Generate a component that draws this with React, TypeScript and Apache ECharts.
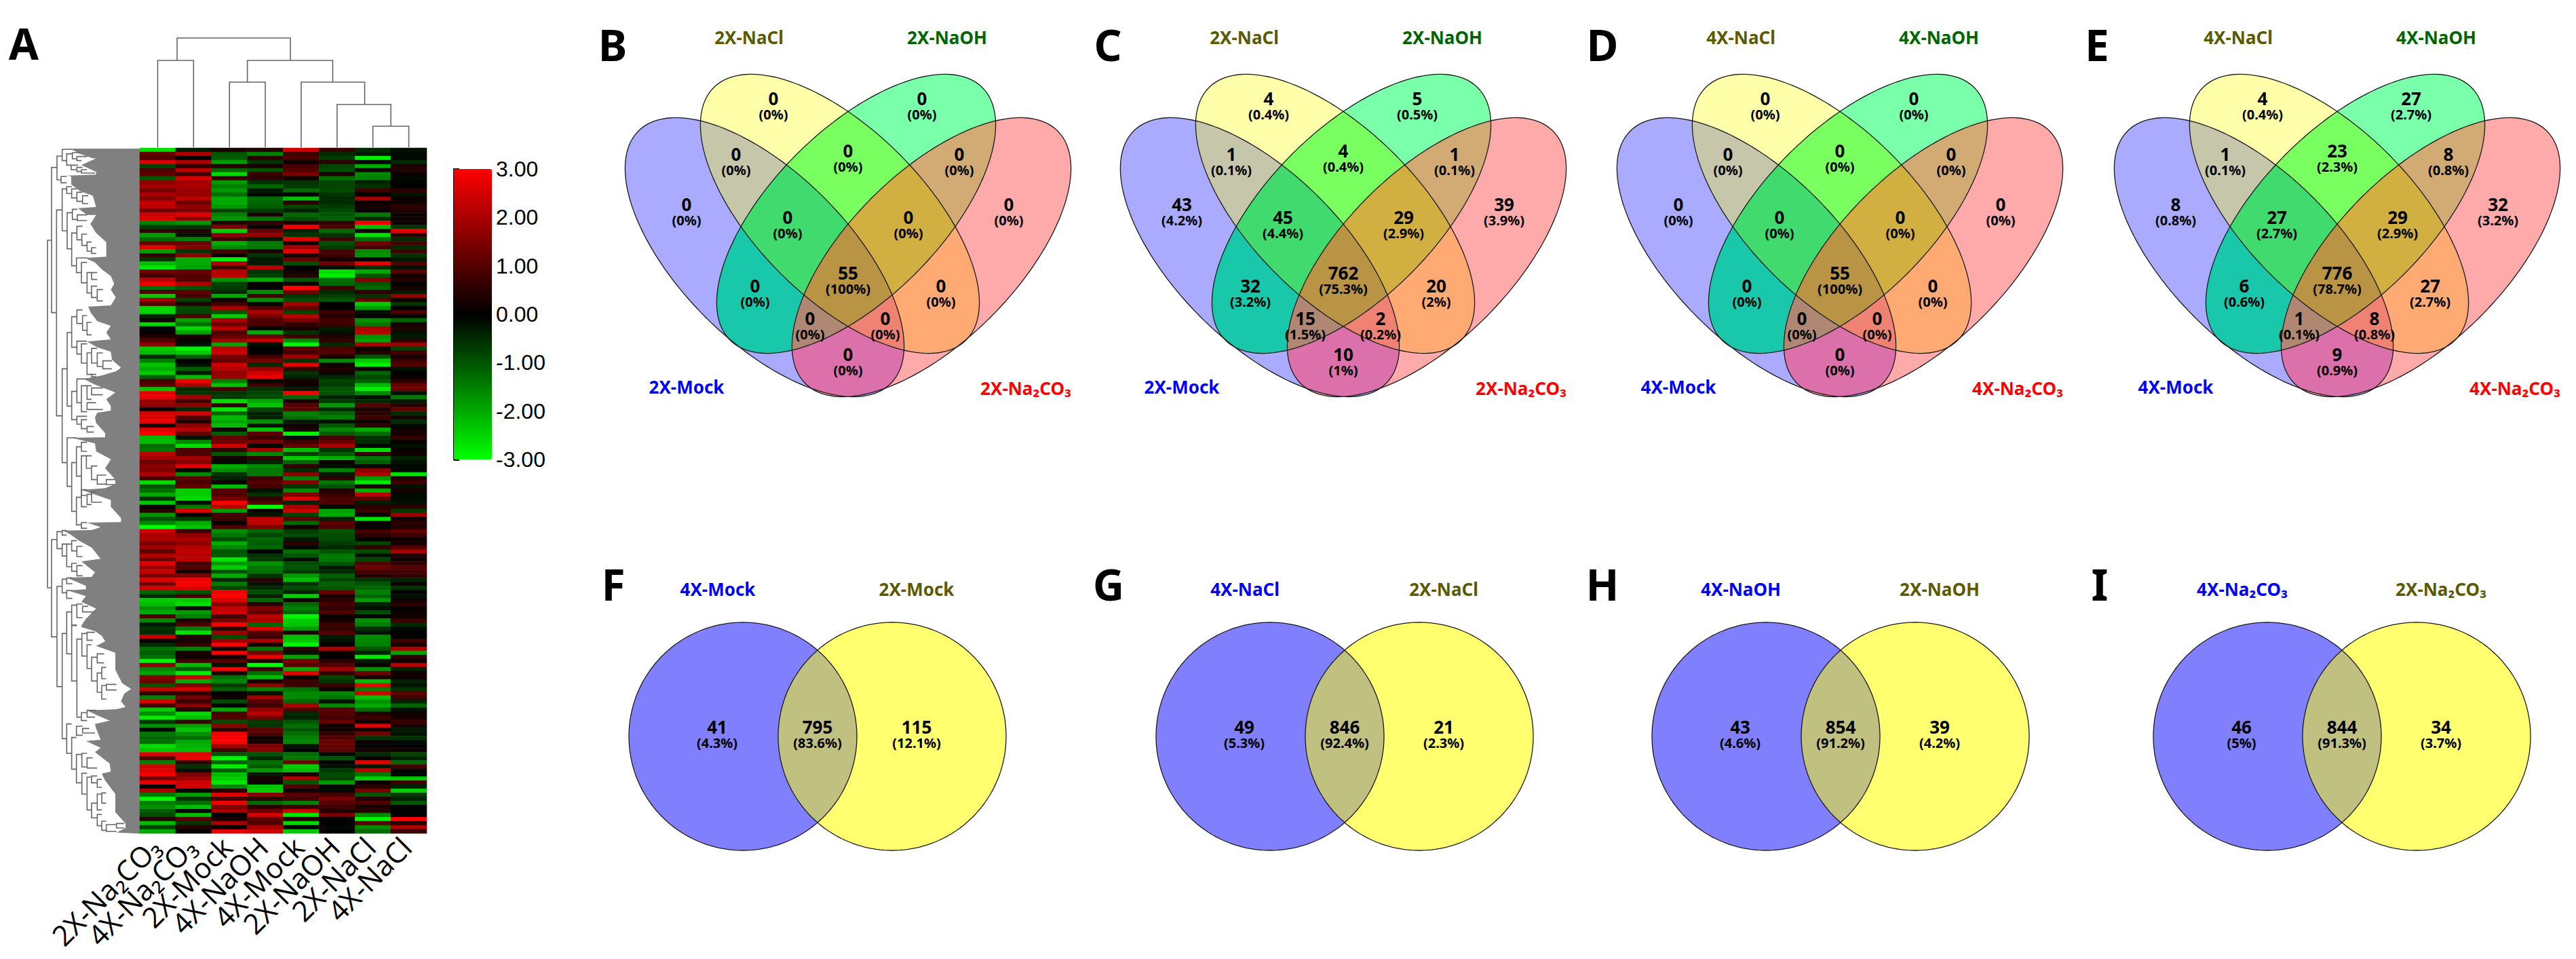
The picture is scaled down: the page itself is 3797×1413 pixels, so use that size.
import React, { useEffect, useRef } from "react";
import * as echarts from "echarts";

// ---------- Heatmap ----------
const heatColumns = ["2X-Na₂CO₃", "4X-Na₂CO₃", "2X-Mock", "4X-NaOH", "4X-Mock", "2X-NaOH", "2X-NaCl", "4X-NaCl"];
const heatRows: number[][] = [
[-2.6,-.3,.3,.4,2.4,.6,-.5,-.2],[1.2,2,-1,-1.5,.7,-.5,-.3,-.1],[1,0,-1.1,.5,.9,-.7,-2.8,-.1],[2.6,2,-1.8,-.6,.2,.5,0,-.5],
[-.8,.6,.4,.3,.8,-.8,-2,.3],[.9,2.2,-1.2,-1,1,-.9,.1,.4],[1.1,.8,-2.5,.7,1.4,.3,-1.6,.1],[-1,2.5,.6,.5,.2,-1.3,-1.5,-.1],
[1.7,1.9,-1.8,-.6,-.6,-.8,-.4,0],[1.9,2,-1.5,-1.2,-.7,-.8,-.6,0],[1.4,1.8,-1.8,-.3,-1.2,-.9,.7,.5],[2,1.8,-1.3,-.1,0,-.6,0,-.2],
[1.5,2.2,-2,-1.3,-2.2,-.5,1.9,.1],[2.3,1.3,-2,-1.2,.5,-.5,.1,.2],[2.2,1.7,-1.8,-1.1,-.8,-.7,.3,.5],[1.3,1.5,-.8,-.7,-.4,-.9,.1,.4],
[2.4,2.6,-1.5,.3,-1.2,-1,-1.4,.1],[2.5,1.6,-1.7,-1.4,-.9,-1.1,-.5,.2],[-1.5,-1.7,.4,.5,.4,.6,2.8,.2],[-.7,-.6,1.4,.1,2.8,.8,-2.2,-.6],
[.5,.4,-2.4,1.2,-.4,-1.2,.1,2.6],[-1.8,-.2,1.6,1.7,-.6,-.6,-2.6,.5],[-1.2,-1.5,.7,-.3,2.6,.7,-1.3,-.5],[1.2,1.2,-2,-1.4,.3,-.9,1.3,.8],
[2.6,1.5,-1.6,-1.4,1.9,-.7,.8,-.5],[-1.8,-.6,.8,.3,2.6,.8,-1.6,.7],[.6,1.6,.1,-.6,.3,.7,-1.7,-.6],[-.6,-2,-2.8,-.3,1.2,.3,0,-.3],
[-2.2,-2,2,-.3,-.9,1.3,2.6,.9],[-2.7,-1.9,.8,2.2,0,-.2,-.6,-.2],[1.3,1.2,2.1,-.6,.2,-2.6,-2,1],
[.8,1,2.2,-.8,.4,-2.8,-1,.2],[2.2,1,-1.7,-2,-1,-1.3,1.5,.4],[2.8,2,-.8,0,.3,-1.2,-1,0],[-1.3,-1,-.7,0,3,.7,-1.2,.3],
[.9,1.1,-.5,-1.6,1.3,-.5,.5,-.3],[-2.4,.8,-2,.7,-.6,-.7,-.6,1.7],[1.9,-.8,.2,-1.7,-.9,-1,1.2,.1],[1,.4,.8,-.1,1.9,0,-2.4,-.6],
[-2.5,-.9,2,1,1.2,0,-1.8,0],[-2.5,-.8,-1,2,-.8,.7,-.2,.9],[-.4,.9,-2.4,1.4,2.2,.4,.1,-.1],[.2,-1.9,2,.9,1.4,.8,-1.7,-1.2],
[-2.5,-1.3,1.3,.9,.6,.7,-1.4,.2],[0,-2.5,2.2,-.1,.3,-.3,2,.4],[.1,-1.9,.9,-2,-.6,-.2,2.2,-.2],[.4,.3,1.2,1.3,.7,.4,-1.7,-.3],
[1,.1,1.9,2.3,-1.6,.6,-1.9,.5],[1.7,-.2,-1.9,-.2,-2.9,-.5,2,1.8],[-2.4,-2.8,2.2,0,1.1,.9,.2,-.8],[-2.2,-2.4,2.4,0,.8,1,.4,.8],
[-.5,-1.1,1.4,.8,1.9,.3,-1,.3],[-1.5,0,1.2,1.4,-.6,-1.6,-2.4,.7],[-2.3,-.2,2.4,-.5,2.7,.2,-2.8,1],[-2,-1.1,2.1,1.8,.6,.4,.2,-.2],
[-2.4,-.3,1.7,2.4,-.6,.2,-1.2,0],[-1.1,-2.2,1.8,2.8,-.4,-.5,-.8,.1],[.8,2.8,-1.5,-.1,.3,-.8,-1.1,.5],[1.1,2,-2.3,.8,.2,-.7,-2.2,1.2],
[-2.3,-.5,.9,-.6,-.3,-1,-2.8,1.3],[2.7,-.6,-.6,-.8,2.9,-1,-1.6,-.2],[2.8,1.9,-.7,-.9,-1.2,-.4,-.2,-1.4],[1.8,.8,-2.6,-2,.3,-.7,-.5,-.3],
[1.7,1.6,.6,-2.3,1,-1.8,1,.4],[.2,-.5,-2.7,-.8,1.1,-.5,.3,1.2],[2.5,2.5,-1.2,-.4,-1.5,-1.2,.5,-.5],[2.6,1,-2.2,-.4,-1.3,-1.5,.7,.2],
[2.8,.4,-2,-1.7,-.3,-.2,.2,-.5],[.3,1.7,-2.2,-.2,.2,-1,.6,-.1],[2.6,2.1,.2,-2.3,.3,-1.6,-2,.2],[2.9,1.2,-1.1,1.1,-2.8,-1.1,-1.3,.3],
[-2.2,-.2,1.2,.7,-.1,.8,-.6,.6],[-2.2,-1.6,1.3,1.4,.7,1.2,-.5,.1],[-1.3,-2.6,2.4,-.1,1.2,2,-.1,-.2],[-1.4,.9,.6,1.9,-2.2,-.6,-2.6,.1],
[2.2,.9,-1,-1.6,-.8,-1.1,.6,.2],[1.9,1.9,.3,.6,-2.4,-2,-1.4,-.4],[1.3,1.6,-.1,-.4,-1.2,.1,-1.1,-.2],[1.6,2.6,-2,-1.6,.6,-.2,-.1,-.1],
[1.5,-.1,-1.7,-1.4,-.5,-1.5,1.6,-.1],[2,-1.6,-.6,-1.4,1.6,-.3,2,-2.6],
[.9,1.1,-.4,.7,-1.5,.5,-1.8,.4],[-2.6,.9,.1,1,1.5,-1.4,-2.7,.7],[-1,1.1,-2.2,.8,-.6,-1,.3,-.2],[-1.3,-2.4,1,-.2,-1.6,.4,-2,.3],
[-2,-2.4,1,-.6,1.5,.6,2.2,-.1],[-.6,-2.6,1.4,.6,2.6,.9,1.1,-.1],[-2.3,-.2,2.9,.9,-.4,.9,-.3,-.2],[.1,-1.4,2.2,-3,1.9,-.1,.5,.5],
[.4,2.6,-1.8,.1,2.4,-1.9,.7,-.7],[-1.7,.1,.8,-.3,-.8,-2,.1,1.8],[-1,-.7,.7,2.3,1,-.4,-2.6,.2],[-1.6,-2,.1,2.2,-1.2,1.1,.1,.5],
[-3,-2.3,.9,1.5,.2,.9,0,.4],[2.4,.7,-1.6,-1.2,-.7,-1,.8,1.1],[2,1.7,-1.4,-.8,-.9,-.9,.5,.7],[2,2,-.9,-1.2,-.3,-.9,.1,.2],
[1.4,1.7,-2,-1.1,.5,-.7,-.8,.3],[1.9,2.1,-1.6,-1.2,-.1,-.5,.6,1],[1.1,2.3,-1,0,-1.3,-1,-.9,1.9],[2.1,2.1,-1.1,-.6,-1,-1.4,-.2,.4],
[1.3,2.2,-2.7,-.7,-.2,-1.4,-.8,.2],[2.6,.8,-1.8,-1.7,-.9,-1,1,.6],[1.8,.9,-2.4,-1.4,-1,-.3,1.2,1],[2.3,.3,-1,-1.3,-.7,-.5,.8,.7],
[1.4,1.5,-2,-.6,-1.8,-1.1,.4,.6],[2.6,2.8,-.5,.5,-2.2,-.8,-.6,-.4],[1.3,2.9,-1.4,-.2,-.6,-1.1,-1,.1],[2.4,2.6,-.8,-.5,-.9,-1,-1.2,-.6],
[-1.2,-1,2.8,-.9,-.4,1.2,-1.5,0],
[-.5,.8,3,-.4,-2.4,.3,-1.2,-.2],[-2.4,-2.4,2.6,-1.2,.2,.5,-1.8,.2],[-2.2,-2.6,1.6,.5,-1.2,.8,-.4,.5],[-1.7,-.2,2.3,1.5,-1.5,.6,-.2,.1],
[-2,-1.8,2.4,1.2,-1.2,.9,-.9,.1],[.9,-1.5,.8,2.2,-2.9,.1,-.1,.2],[-1.6,.4,1.4,2,-2.4,.3,-1.7,.7],[-.3,.9,2.9,-1.2,-2.3,.7,-1.5,-.5],
[-.6,-1.5,.5,2.5,-1.8,.6,-.6,-.1],[-.5,-2.6,1.8,1,.3,1,-.2,0],[2.3,.4,-.9,.7,-2.2,-.3,-1.6,0],[.1,.3,1.8,2,-2.3,-.2,-1.6,.7],
[-.5,.6,3,.3,-2.9,.1,-1.5,.3],[-1.3,-1.5,.2,-1.4,.5,2,-1,2],[-1.1,.3,2.9,1.4,-.2,.1,-.4,-1.9],[-1.3,.2,.2,2.7,-1.9,0,-2.7,.5],
[-2.9,.8,1,.3,1.4,.5,-.3,.2],[1.6,-2.2,-.2,-3,1.1,1,.1,2.2],[-1.6,-1.1,2.9,.7,-2,1.9,-1.7,-.4],[-1.9,-2.8,.3,-1.3,2.7,.6,1.3,.2],
[1.5,2.4,-1.3,-2.2,.1,-.8,.3,.2],[1.3,-2,-1.6,.3,.7,-.6,-2.2,-.4],[-1,1.5,-.7,1.7,.7,.7,2.7,-.2],[2.3,2.5,-1.1,-1.5,-1.3,.2,-1.5,-.6],
[.6,.5,.1,-.2,-1.6,-1.6,2.5,1.1],[-1.5,1.4,.2,1.9,-1.6,-1.4,-2.3,.7],[2.6,.7,-.9,1,-1.2,-.2,-1.7,-.4],[.8,1.6,0,.7,2,-1.6,-2,-1.2],
[-2.4,.4,-2,1.7,.9,1,-1.3,-.2],
[-1.6,-2.6,.9,2.2,-.5,1,.4,.2],[-2.8,-2.2,1,1.3,-.4,.8,.7,.3],[-.6,.7,-.9,-.7,-1,1.2,.2,.7],[-1.7,-1.9,1.7,-.6,-1.3,.2,2.7,.3],
[-.1,-2.3,.5,1.1,-1,.2,.3,-.3],[-1.4,-1.7,2.8,.9,-1.3,.6,1.3,-.2],[-1.2,-1.3,3,.2,-1.5,1,-.6,-.6],[-1.3,-2,3,.3,-1.6,1.2,.1,-.1],
[-2.6,-2.1,1.9,1.5,-.2,1.2,0,0],[-2.3,-2.2,.8,1.6,0,1.1,.3,.2],[2.6,2.6,-1,-1,-1.3,-.1,-.5,-.8],[1,2.8,-2.9,-.5,-1.4,-1,0,-.4],
[-1.5,.6,-1.2,-1.3,1.3,0,2.7,-1.2],[2.4,-.6,-2.8,-1.1,-2.4,-.2,-.3,.8],[2.6,-.2,-1.1,-1.8,-2.2,-.7,2.2,.1],[2.9,1.4,-2.2,-.3,.3,-.9,-1.4,-.1],
[1.4,1.8,-2.4,.3,2,-.8,-2.4,-2.3],[2.7,2.4,-2.7,.1,-1,-1.8,.1,.7],[0,2.5,-1.6,-2.3,.9,-.1,.5,-.4],[2,0,.5,-2.4,.2,-.1,1.4,-2.4],
[-1.4,-1.8,2.6,1.6,1,.8,-1,-.7],[-2.9,-.6,.8,.5,.8,1.4,.4,-.4],[-1.5,-1.3,2.8,-1.2,-1.5,1,.9,-1],[-1.7,-2.2,1.5,.5,.6,.8,.3,0],
[-1.1,-.1,1.9,1.3,2.4,.4,.5,0],[-.9,-2.2,0,2.5,-2.7,1.4,-1.6,0],[.4,1,.3,1.2,.4,0,-2.9,3],[-2.2,-.6,1.9,.9,-2.5,0,1,.4],
[-.8,.5,.1,2,0,-.1,-1.6,2],[-2,0,2.7,2.4,-2.4,0,-1.3,.7],
];
const colorTicks = [-3, -2, -1, 0, 1, 2, 3];

// ---------- Dendrograms ----------
// column tree: left leaf, right leaf, join height, left base, right base
const colMerges = [
  [0.5, 1.5, 128, 0, 0], [2.5, 3.5, 96, 0, 0], [6.5, 7.5, 31, 0, 0], [5.5, 7.0, 63, 0, 31],
  [4.5, 6.27, 96, 0, 63], [3.0, 5.38, 128, 96, 96], [1.04, 4.2, 161, 128, 128],
];
// row tree: stem, top, bottom, top end, bottom end
const rowBrackets = [
  [90,432,1968,108,108],[108,110,752,132,130],[132,60,165,155,150],[155,30,80,195,175],[175,50,100,200,195],[200,45,72,235,220],
  [220,62,80,265,240],[195,100,120,225,220],[220,110,128,245,240],[240,120,135,265,300],[150,150,178,175,175],[130,298,1208,155,155],
  [155,205,390,175,177],[175,195,225,198,197],[197,205,245,220,220],[220,220,260,245,245],[245,235,270,270,270],[177,310,470,200,197],
  [200,295,340,222,222],[222,320,345,265,265],[197,400,545,220,218],[220,370,430,245,242],[242,405,455,265,265],[265,440,480,285,285],
  [285,465,490,305,305],[218,510,575,265,240],[240,530,620,265,265],[265,575,665,285,285],[285,575,605,310,310],[285,635,685,310,310],
  [310,650,700,335,335],[155,1000,1415,177,177],[177,840,1165,197,197],[197,770,905,220,220],[220,740,800,245,245],[245,765,830,265,265],
  [265,795,850,285,285],[220,878,935,265,240],[240,890,975,265,265],[265,930,1025,285,285],[285,910,975,310,310],[310,930,990,335,335],
  [335,965,1000,375,375],[285,1025,1035,305,305],[197,1100,1225,220,220],[220,1045,1150,265,240],[240,1075,1190,265,265],[265,1075,1135,285,285],
  [285,1085,1115,335,335],[265,1150,1180,305,335],[220,1210,1245,265,240],[240,1225,1265,265,265],[265,1255,1280,295,295],[177,1305,1520,218,197],
  [197,1415,1630,218,218],[218,1345,1475,240,240],[240,1325,1365,265,265],[240,1385,1560,262,262],[262,1385,1440,285,285],[285,1430,1490,310,310],
  [310,1470,1510,350,350],[350,1490,1512,390,390],[218,1568,1690,240,240],[240,1535,1610,265,265],[265,1555,1600,285,285],[285,1545,1590,305,330],
  [240,1680,1705,265,265],[108,1755,2185,132,132],[132,1720,1795,155,155],[155,1715,1735,175,175],[155,1775,1828,175,175],[175,1775,1875,197,197],
  [197,1760,1805,220,220],[220,1785,1830,245,245],[197,1860,1895,220,220],[220,1870,1915,245,245],[132,1962,2405,155,155],[155,1930,1990,175,175],
  [175,1925,1950,200,200],[175,1980,2015,200,200],[155,2170,2635,175,175],[175,2075,2260,197,197],[197,2045,2135,220,220],[220,2040,2100,245,245],
  [245,2050,2075,270,300],[197,2133,2380,220,220],[220,2195,2540,240,240],[242,2170,2270,265,265],[265,2165,2200,300,290],[265,2220,2325,285,285],
  [285,2275,2380,310,310],[310,2260,2300,340,340],[310,2345,2430,330,330],[330,2320,2370,350,350],[330,2400,2460,350,350],[350,2395,2420,395,395],
  [240,2520,2555,265,265],[265,2510,2540,305,300],[175,2570,2700,197,197],[197,2630,2770,218,218],[218,2580,2620,245,245],[245,2590,2610,275,300],
  [218,2705,2830,240,240],[242,2700,2760,265,265],[265,2720,2765,290,310],[242,2788,2880,265,265],[265,2805,2950,285,285],[285,2800,2830,310,310],
  [310,2815,2850,330,330],[285,2920,2985,310,310],[310,2880,2950,330,330],[330,2875,2920,350,350],[310,2970,3020,330,330],[330,3000,3040,350,350],
  [350,3015,3045,395,395],[395,3010,3030,430,430],
];
// left edge of the dense leaf mass
const leafEdge = [
  [175,27],[200,32],[235,50],[290,70],[305,70],[240,100],[305,130],[305,142],[175,146],[195,150],[195,185],[235,215],[290,235],[305,285],
  [225,290],[265,320],[305,320],[280,360],[305,400],[350,440],[350,505],[255,510],[300,530],[330,560],[370,590],[385,625],[370,650],[392,685],
  [370,720],[270,725],[280,750],[310,790],[370,810],[350,840],[370,870],[265,880],[310,905],[370,925],[375,960],[415,995],[395,1010],[330,1030],
  [250,1045],[300,1070],[390,1105],[350,1135],[370,1165],[370,1185],[310,1195],[300,1215],[305,1240],[345,1285],[345,1303],[195,1305],[300,1330],
  [305,1365],[370,1400],[345,1440],[390,1490],[390,1510],[345,1528],[240,1535],[370,1580],[370,1610],[415,1660],[415,1678],[265,1680],[325,1700],
  [285,1713],[160,1715],[195,1735],[230,1760],[285,1790],[325,1840],[240,1852],[300,1900],[285,1920],[175,1923],[260,1960],[260,1975],[180,1980],
  [260,2005],[240,2030],[305,2060],[260,2105],[240,2135],[240,2142],[300,2160],[330,2180],[345,2205],[305,2225],[390,2255],[390,2300],[390,2330],
  [420,2390],[460,2415],[430,2435],[415,2470],[435,2495],[395,2505],[265,2510],[305,2530],[365,2555],[300,2570],[305,2590],[325,2640],[260,2645],
  [325,2675],[300,2695],[365,2745],[370,2780],[330,2790],[345,2820],[390,2880],[390,2930],[390,2960],[435,3010],[435,3030],[395,3050],[500,3055],
];

// ---------- Venn diagrams ----------
const setBlue = 1, setYellow = 2, setGreen = 4, setRed = 8;
const fourRegionColors: Record<number, string> = {
  1: "#aaaaff", 2: "#ffffaa", 4: "#7affaa", 8: "#ffaaaa", 3: "#c6c6aa", 6: "#7aff60", 12: "#d2aa73", 5: "#19c8aa", 10: "#ffaa73",
  9: "#dc70aa", 7: "#41da6e", 14: "#d2af41", 13: "#af8773", 11: "#f08273", 15: "#b89444",
};
const fourRegionOffsets = [
  [-238, 302], [-110, 146], [109, 146], [237, 302], [-165, 228], [0, 223], [164, 228], [-89, 321], [89, 321],
  [-137, 422], [137, 422], [0, 403], [-56, 470], [55, 470], [0, 523],
];
const panelBCounts = [0, 0, 0, 0, 0, 0, 0, 0, 0, 0, 0, 55, 0, 0, 0];
const panelBPercents = ["0%", "0%", "0%", "0%", "0%", "0%", "0%", "0%", "0%", "0%", "0%", "100%", "0%", "0%", "0%"];
const panelCCounts = [43, 4, 5, 39, 1, 4, 1, 45, 29, 32, 20, 762, 15, 2, 10];
const panelCPercents = ["4.2%", "0.4%", "0.5%", "3.9%", "0.1%", "0.4%", "0.1%", "4.4%", "2.9%", "3.2%", "2%", "75.3%", "1.5%", "0.2%", "1%"];
const panelECounts = [8, 4, 27, 32, 1, 23, 8, 27, 29, 6, 27, 776, 1, 8, 9];
const panelEPercents = ["0.8%", "0.4%", "2.7%", "3.2%", "0.1%", "2.3%", "0.8%", "2.7%", "2.9%", "0.6%", "2.7%", "78.7%", "0.1%", "0.8%", "0.9%"];
const fourPanels = [
  { letter: "B", cx: 1250, lx: 903, prefix: "2X", counts: panelBCounts, pcts: panelBPercents },
  { letter: "C", cx: 1980, lx: 1633, prefix: "2X", counts: panelCCounts, pcts: panelCPercents },
  { letter: "D", cx: 2712, lx: 2362, prefix: "4X", counts: panelBCounts, pcts: panelBPercents },
  { letter: "E", cx: 3445, lx: 3091, prefix: "4X", counts: panelECounts, pcts: panelEPercents },
];
const twoPanels = [
  { letter: "F", cx: 1205, lx: 904, names: ["4X-Mock", "2X-Mock"], counts: [41, 795, 115], pcts: ["4.3%", "83.6%", "12.1%"] },
  { letter: "G", cx: 1982, lx: 1634, names: ["4X-NaCl", "2X-NaCl"], counts: [49, 846, 21], pcts: ["5.3%", "92.4%", "2.3%"] },
  { letter: "H", cx: 2713, lx: 2362, names: ["4X-NaOH", "2X-NaOH"], counts: [43, 854, 39], pcts: ["4.6%", "91.2%", "4.2%"] },
  { letter: "I", cx: 3452, lx: 3095, names: ["4X-Na₂CO₃", "2X-Na₂CO₃"], counts: [46, 844, 34], pcts: ["5%", "91.3%", "3.7%"] },
];

type Pt = [number, number];
const FONT = '"Noto Sans", "Open Sans", sans-serif';
const LETTER_FONT = '"Liberation Sans Narrow", "Noto Sans", sans-serif';

function ellipsePts(cx: number, cy: number, a: number, b: number, deg: number, n = 180): Pt[] {
  const th = (deg * Math.PI) / 180;
  const pts: Pt[] = [];
  for (let i = 0; i < n; i++) {
    const t = (i / n) * Math.PI * 2;
    pts.push([
      cx + a * Math.cos(t) * Math.cos(th) - b * Math.sin(t) * Math.sin(th),
      cy + a * Math.cos(t) * Math.sin(th) + b * Math.sin(t) * Math.cos(th),
    ]);
  }
  return pts;
}
// Intersection of two convex outlines (both clockwise on screen, as ellipsePts gives them)
function clip(subject: Pt[], clipper: Pt[]): Pt[] {
  let out = subject;
  for (let i = 0; i < clipper.length && out.length; i++) {
    const A = clipper[i], B = clipper[(i + 1) % clipper.length];
    const side = (p: Pt) => (B[0] - A[0]) * (p[1] - A[1]) - (B[1] - A[1]) * (p[0] - A[0]);
    const next: Pt[] = [];
    for (let j = 0; j < out.length; j++) {
      const P = out[j], Q = out[(j + 1) % out.length];
      const sp = side(P), sq = side(Q);
      if (sp >= 0) next.push(P);
      if (sp >= 0 !== sq >= 0) {
        const k = sp / (sp - sq);
        next.push([P[0] + (Q[0] - P[0]) * k, P[1] + (Q[1] - P[1]) * k]);
      }
    }
    out = next;
  }
  return out;
}
const txt = (x: number, y: number, text: string, size: number, fill: string, family = FONT) => ({
  type: "text", x, y, z: 20, silent: true,
  style: { text, fill, align: "center", verticalAlign: "middle", font: `bold ${size}px ${family}` },
});

function buildVenns() {
  const els: any[] = [];
  els.push(txt(35, 63, "A", 64, "#000", LETTER_FONT));
  for (const p of fourPanels) {
    const c = p.cx;
    const outlines: Record<number, Pt[]> = {
      [setBlue]: ellipsePts(c - 123, 379, 263, 124, 45),
      [setYellow]: ellipsePts(c - 12, 315, 263, 124, 45),
      [setGreen]: ellipsePts(c + 12, 315, 263, 124, -45),
      [setRed]: ellipsePts(c + 123, 379, 263, 124, -45),
    };
    const bitCount = (m: number) => [1, 2, 4, 8].filter((b) => m & b).length;
    const masks = Object.keys(fourRegionColors).map(Number).sort((a, b) => bitCount(a) - bitCount(b));
    for (const m of masks) {
      let poly: Pt[] | null = null;
      for (const b of [1, 2, 4, 8]) if (m & b) poly = poly ? clip(poly, outlines[b]) : outlines[b];
      els.push({ type: "polygon", z: 5 + bitCount(m), silent: true, shape: { points: poly }, style: { fill: fourRegionColors[m], stroke: fourRegionColors[m], lineWidth: 0.5 } });
    }
    for (const b of [1, 2, 4, 8])
      els.push({ type: "polygon", z: 12, silent: true, shape: { points: outlines[b] }, style: { fill: "none", stroke: "#1a1a1a", lineWidth: 1.3 } });
    fourRegionOffsets.forEach((off, i) => {
      els.push(txt(c + off[0], off[1] - 1, String(p.counts[i]), 26, "#000"));
      els.push(txt(c + off[0], off[1] + 22, `(${p.pcts[i]})`, 20, "#000"));
    });
    els.push(txt(p.lx, 65, p.letter, 64, "#000", LETTER_FONT));
    els.push(txt(c - 146, 55, `${p.prefix}-NaCl`, 26, "#5a5a00"));
    els.push(txt(c + 146, 55, `${p.prefix}-NaOH`, 26, "#006400"));
    els.push(txt(c - 238, 570, `${p.prefix}-Mock`, 26, "#0000ff"));
    els.push(txt(c + 262, 572, `${p.prefix}-Na₂CO₃`, 26, "#ff0000"));
  }
  for (const p of twoPanels) {
    const c = p.cx;
    const L = ellipsePts(c - 110, 1085, 168, 168, 0);
    const R = ellipsePts(c + 110, 1085, 168, 168, 0);
    els.push({ type: "polygon", z: 5, silent: true, shape: { points: L }, style: { fill: "#8080ff" } });
    els.push({ type: "polygon", z: 5, silent: true, shape: { points: R }, style: { fill: "#ffff70" } });
    els.push({ type: "polygon", z: 6, silent: true, shape: { points: clip(L, R) }, style: { fill: "#c0c080" } });
    for (const o of [L, R])
      els.push({ type: "polygon", z: 12, silent: true, shape: { points: o }, style: { fill: "none", stroke: "#1a1a1a", lineWidth: 1.3 } });
    [-148, 0, 146].forEach((dx, i) => {
      els.push(txt(c + dx, 1071, String(p.counts[i]), 26, "#000"));
      els.push(txt(c + dx, 1094, `(${p.pcts[i]})`, 20, "#000"));
    });
    els.push(txt(p.lx, 860, p.letter, 64, "#000", LETTER_FONT));
    els.push(txt(c - 147, 868, p.names[0], 26, "#0000ff"));
    els.push(txt(c + 146, 868, p.names[1], 26, "#5a5a00"));
  }
  return els;
}

export default function App() {
  const ref = useRef<HTMLDivElement>(null);
  useEffect(() => {
    const chart = echarts.init(ref.current!, undefined, { renderer: "svg" });
    const heatData: number[][] = [];
    heatRows.forEach((row, r) => row.forEach((v, c) => heatData.push([c, r, v])));
    const treeStyle = { stroke: "#666666", lineWidth: 1.6, fill: "none" };
    chart.setOption({
      animation: false,
      backgroundColor: "#ffffff",
      grid: [
        { left: 206, top: 218, width: 423, height: 1010 },
        { left: 206, top: 56, width: 423, height: 161 },
        { left: 40, top: 210, width: 170, height: 1030 },
        { left: 669, top: 249, width: 56, height: 428 },
      ],
      xAxis: [
        {
          gridIndex: 0, type: "category", data: heatColumns, position: "bottom",
          axisLine: { show: false }, axisTick: { show: false }, splitArea: { show: false },
          axisLabel: { interval: 0, rotate: 45, margin: 8, fontSize: 42, padding: [0, 6, 0, 0], color: "#000", fontFamily: '"Open Sans", sans-serif' },
        },
        { gridIndex: 1, type: "value", min: 0, max: 8, show: false },
        { gridIndex: 2, type: "value", min: 0, max: 510, show: false },
        { gridIndex: 3, type: "value", min: 0, max: 1, show: false },
      ],
      yAxis: [
        { gridIndex: 0, type: "category", inverse: true, data: heatRows.map((_, i) => String(i)), show: false },
        { gridIndex: 1, type: "value", min: 0, max: 161, show: false },
        { gridIndex: 2, type: "value", min: 0, max: 3090, inverse: true, show: false },
        {
          gridIndex: 3, type: "value", min: colorTicks[0], max: colorTicks[colorTicks.length - 1], interval: 1, position: "right",
          axisLine: { show: true, lineStyle: { color: "#000", width: 2 } },
          axisTick: { show: true, length: 8, lineStyle: { color: "#000", width: 3 } },
          splitLine: { show: false },
          axisLabel: { margin: 6, fontSize: 32, color: "#000", fontFamily: '"Liberation Sans", sans-serif', formatter: (v: number) => v.toFixed(2) },
        },
      ],
      visualMap: {
        type: "continuous", seriesIndex: 0, dimension: 2, min: -3, max: 3, show: true, calculable: false, hoverLink: false,
        left: 669, top: 249, itemWidth: 56, itemHeight: 428, padding: 0, text: null, showLabel: false,
        inRange: { color: ["#00ff00", "#000000", "#ff0000"] },
      },
      series: [
        { type: "heatmap", xAxisIndex: 0, yAxisIndex: 0, data: heatData, silent: true, emphasis: { disabled: true }, itemStyle: { borderWidth: 0 } },
        {
          type: "custom", xAxisIndex: 1, yAxisIndex: 1, silent: true, data: colMerges,
          encode: { x: [0, 1], y: [2, 3, 4] },
          renderItem: (_: any, api: any) => {
            const a = api.coord([api.value(0), api.value(3)]);
            const b = api.coord([api.value(0), api.value(2)]);
            const c = api.coord([api.value(1), api.value(2)]);
            const d = api.coord([api.value(1), api.value(4)]);
            return { type: "polyline", shape: { points: [a, b, c, d] }, style: treeStyle };
          },
        },
        {
          type: "custom", xAxisIndex: 2, yAxisIndex: 2, silent: true, data: [[0, 0]], z: 1,
          renderItem: (_: any, api: any) => {
            const pts = [...leafEdge, [500, 3055], [500, 27]].map((p) => api.coord(p));
            return { type: "polygon", shape: { points: pts }, style: { fill: "#808080" } };
          },
        },
        {
          type: "custom", xAxisIndex: 2, yAxisIndex: 2, silent: true, data: rowBrackets, z: 2,
          encode: { x: [0, 3, 4], y: [1, 2] },
          renderItem: (_: any, api: any) => {
            const x = api.value(0), t = api.value(1), b = api.value(2), xt = api.value(3), xb = api.value(4);
            const pts = [[xt, t], [x, t], [x, b], [xb, b]].map((p) => api.coord(p));
            return { type: "polyline", shape: { points: pts }, style: treeStyle };
          },
        },
        { type: "scatter", xAxisIndex: 3, yAxisIndex: 3, data: [], silent: true },
      ],
      graphic: { elements: buildVenns() },
    });
    return () => chart.dispose();
  }, []);
  return <div ref={ref} style={{ position: "fixed", left: 0, top: 0, width: 3797, height: 1413, background: "#fff" }} />;
}
